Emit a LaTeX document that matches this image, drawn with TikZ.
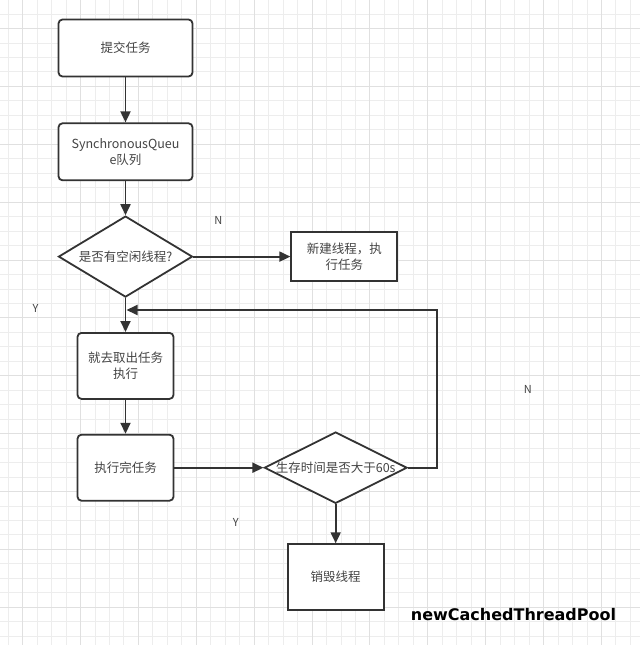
\documentclass[tikz,border=0pt]{standalone}
\usepackage{fontspec}
\setmainfont{Noto Sans CJK SC}
\newfontfamily\titlefont{DejaVu Sans}
\usetikzlibrary{shapes.geometric, arrows.meta, positioning}
\definecolor{linegray}{HTML}{333333}
\definecolor{textgray}{HTML}{444444}
\definecolor{gridgray}{HTML}{EDEDED}
\definecolor{gridmajor}{HTML}{E0E0E0}
\def\LW{1.8pt}
\def\Wbox{134pt}
\def\Hbox{57pt}
\def\Wsmall{96pt}
\def\Hsmall{66pt}
\def\distV{34pt}
\tikzstyle{every node} = [font=\fontsize{12.5}{16}\selectfont, text=textgray]
\tikzstyle{arrow}    = [draw=linegray, line width=\LW, -{Triangle[length=11pt,width=10pt]}]
\tikzstyle{process}  = [rectangle, draw=linegray, line width=\LW, fill=white, rounded corners=4pt, align=center]
\tikzstyle{plain}    = [rectangle, draw=linegray, line width=\LW, fill=white, align=center]
\tikzstyle{decision} = [diamond, draw=linegray, line width=\LW, fill=white, inner sep=0pt, align=center]
\tikzstyle{yesno}    = [font=\fontsize{11}{13}\selectfont]

\begin{document}
\begin{tikzpicture}[x=1pt, y=1pt]
% Background grid
    \useasboundingbox (0,0) rectangle (640,-645);
    \fill[white] (0,0) rectangle (640,-645);
    \foreach \k in {0,...,43} \draw[gridgray, line width=0.8pt] (8.1+14.47*\k, 0) -- ++(0,-645);
    \foreach \k in {1,...,44} \draw[gridgray, line width=0.8pt] (0, 0.5-14.47*\k) -- ++(640,0);
    \foreach \k in {1,5,...,41} \draw[gridmajor, line width=0.8pt] (8.1+14.47*\k, 0) -- ++(0,-645);
    \foreach \k in {2,6,...,42} \draw[gridmajor, line width=0.8pt] (0, 0.5-14.47*\k) -- ++(640,0);

% Objects
    % Left column
    \node (submit)  [process,  minimum width=\Wbox, minimum height=\Hbox] at (125.5,-48) {提交任务};
    \node (queue)   [process,  minimum width=\Wbox, minimum height=\Hbox, below=45pt of submit] {SynchronousQueu\\e队列};
    \node (idle)    [decision, minimum width=134pt, minimum height=81pt, aspect=1.64, below=\distV of queue] {是否有空闲线程?};
    \node (create)  [plain,    minimum width=106pt, minimum height=49pt, right=97pt of idle] {新建线程，执\\行任务};
    \node (take)    [process,  minimum width=\Wsmall, minimum height=\Hsmall, below=\distV of idle] {就去取出任务\\执行};
    \node (done)    [process,  minimum width=\Wsmall, minimum height=\Hsmall, below=\distV of take] {执行完任务};
    % Right column
    \node (alive)   [decision, minimum width=142pt, minimum height=70pt, aspect=2, right=89pt of done] {生存时间是否大于60s};
    \node (destroy) [plain,    minimum width=\Wsmall, minimum height=66pt, below=39pt of alive] {销毁线程};
    % Title
    \node (title)   [font=\titlefont\fontsize{16}{19}\bfseries, text=black] at (513.5,-615) {newCachedThreadPool};

% Arrows
    \draw [arrow] (submit) -- (queue);
    \draw [arrow] (queue)  -- (idle);
    \draw [arrow] (idle)   -- (create);
    \draw [arrow] (idle)   -- (take);
    \draw [arrow] (take)   -- (done);
    \draw [arrow] (done)   -- (alive);
    \draw [arrow] (alive)  -- (destroy);
    % Loop back
    \coordinate (back) at ([xshift=1pt, yshift=-12pt]idle.south);
    \draw [arrow] (alive.east) -- ++(29pt,0) |- (back);

% Decision texts
    \node (n1) [yesno] at ([shift={(25pt,36pt)}]idle.east)     {N};
    \node (y1) [yesno] at ([shift={(-90pt,-10pt)}]idle.south)  {Y};
    \node (n2) [yesno] at ([shift={(120pt,78pt)}]alive.east)   {N};
    \node (y2) [yesno] at ([shift={(-100pt,-18pt)}]alive.south) {Y};
\end{tikzpicture}
\end{document}
